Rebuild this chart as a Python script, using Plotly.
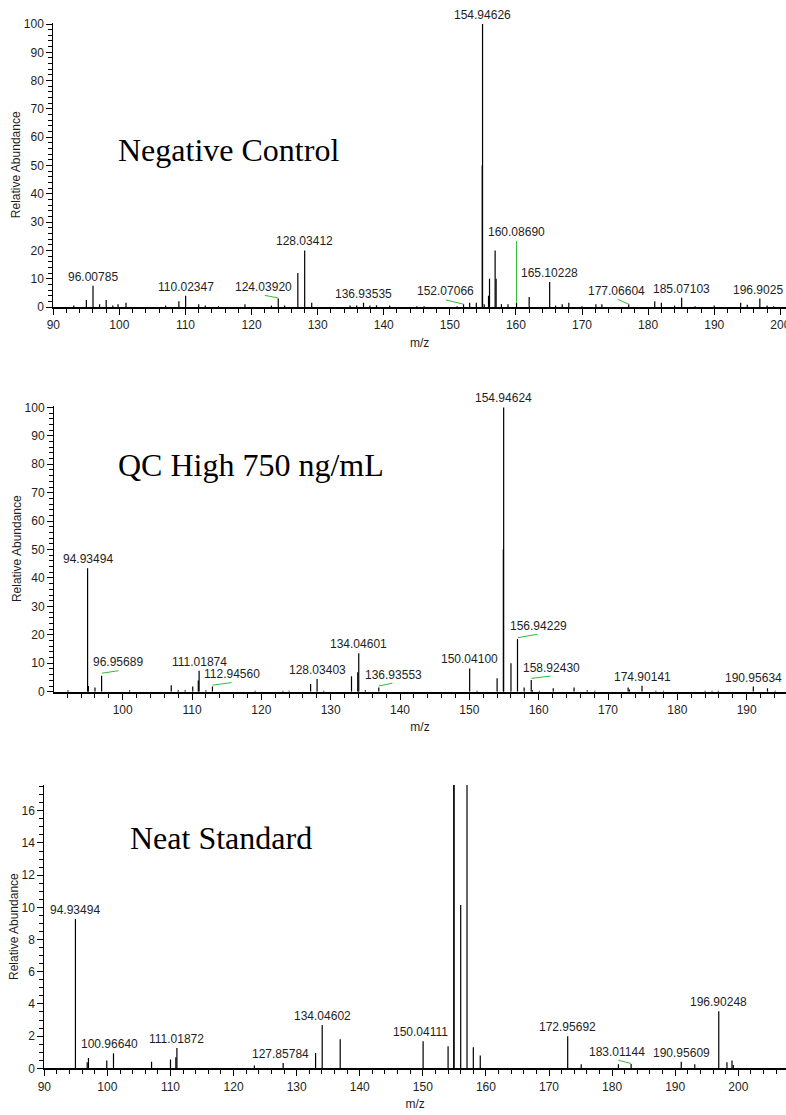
import plotly.graph_objects as go

W, H = 786, 1115

# ---------------- Data ----------------
# Panel 1: Negative Control
neg_mz = [93.1, 95.0, 96.00785, 97.0, 98.0, 99.0, 99.8, 101.0, 107.0, 109.0, 110.02347, 112.0,
          113.0, 115.0, 119.0, 123.0, 124.03920, 125.0, 127.0, 128.03412, 129.1, 134.9, 135.9,
          136.93535, 137.9, 138.9, 140.9, 145.0, 146.1, 151.1, 152.07066, 153.0, 154.0, 154.90,
          154.94626, 155.2, 155.85, 156.0, 156.85, 157.0, 157.8, 158.8, 160.08690, 162.0,
          165.10228, 166.0, 167.0, 168.0, 170.0, 172.1, 173.0, 177.06604, 181.0, 182.0, 184.0,
          185.07103, 187.1, 190.0, 194.0, 195.0, 196.9025, 198.0, 199.0]
neg_int = [0.5, 2.5, 7.5, 1.0, 2.5, 0.5, 1.0, 1.5, 0.5, 2.0, 4.0, 1.0,
           0.5, 0.3, 1.0, 0.5, 3.0, 0.5, 12.0, 20.0, 1.5, 0.5, 0.5,
           1.5, 0.5, 0.6, 0.5, 0.3, 0.3, 0.3, 1.0, 1.5, 1.5, 50.0,
           100.0, 1.0, 4.0, 10.0, 20.0, 10.0, 1.0, 1.0, 1.5, 3.5,
           8.8, 0.5, 1.0, 1.5, 0.3, 1.0, 1.0, 1.0, 2.0, 1.5, 0.5,
           3.3, 0.3, 0.5, 1.5, 0.8, 3.0, 0.5, 0.3]
neg_labels = ["96.00785", "110.02347", "124.03920", "128.03412", "136.93535", "152.07066",
              "154.94626", "160.08690", "165.10228", "177.06604", "185.07103", "196.9025"]

# Panel 2: QC High 750 ng/mL
qc_mz = [92.1, 94.93494, 95.05, 96.0, 96.95689, 101.0, 107.0, 108.0, 109.0, 110.1, 110.9,
         111.01874, 112.0, 112.94560, 119.1, 123.1, 124.0, 127.1, 128.03403, 129.0, 133.0,
         133.9, 134.04601, 135.0, 136.93553, 150.04100, 151.1, 154.0, 154.90, 154.94624, 156.0,
         156.94229, 157.9, 158.92430, 159.1, 160.1, 162.1, 165.1, 167.0, 168.1, 172.9, 173.1,
         174.90141, 176.9, 178.0, 184.0, 185.0, 185.9, 190.95634, 193.0, 194.1]
qc_int = [0.5, 43.4, 2.0, 1.5, 5.6, 0.5, 2.3, 0.5, 0.5, 1.8, 3.9,
          7.4, 0.5, 1.8, 0.3, 0.3, 0.3, 2.7, 4.5, 0.3, 5.4,
          6.8, 13.5, 0.5, 1.5, 8.2, 0.3, 4.7, 50.0, 100.0, 10.0,
          18.5, 1.5, 4.1, 0.5, 0.3, 1.2, 1.5, 0.5, 0.3, 1.5, 0.8,
          2.1, 0.3, 0.3, 0.3, 0.3, 0.3, 1.8, 1.2, 0.3]
qc_labels = ["94.93494", "96.95689", "111.01874", "112.94560", "128.03403", "134.04601",
             "136.93553", "150.04100", "154.94624", "156.94229", "158.92430", "174.90141",
             "190.95634"]

# Panel 3: Neat Standard
neat_mz = [94.93494, 96.8, 97.0, 99.9, 100.96640, 107.0, 110.0, 110.85, 111.01872, 123.3,
           127.85784, 133.0, 134.04602, 136.9, 150.04111, 154.0, 154.90, 154.94626, 156.0,
           157.0, 158.0, 159.1, 172.95692, 175.1, 181.0, 183.01144, 190.95609, 193.1,
           196.90248, 198.2, 199.0, 199.2]
neat_int = [9.28, 0.37, 0.64, 0.48, 0.93, 0.41, 0.54, 0.68, 1.26, 0.17,
            0.33, 0.95, 2.69, 1.8, 1.68, 1.37, 50.0, 100.0, 10.14,
            19.0, 1.3, 0.79, 1.99, 0.25, 0.25, 0.27, 0.41, 0.25,
            3.54, 0.37, 0.48, 0.2]
neat_labels = ["94.93494", "100.96640", "111.01872", "127.85784", "134.04602", "150.04111",
               "172.95692", "183.01144", "190.95609", "196.90248"]

titles = ["Negative Control", "QC High 750 ng/mL", "Neat Standard"]

# ---------------- Layout helpers ----------------
# labels drawn away from their peak: (label_x, label_y, leader_x0, leader_y0, leader_x1, leader_y1)
offsets = [
    {"124.03920": (121.8, 3.9, 122.0, 4.1, 124.04, 3.2),
     "152.07066": (149.4, 2.3, 149.4, 2.5, 152.07, 1.0),
     "160.08690": (160.09, 23.3, 160.09, 23.3, 160.09, 1.5),
     "177.06604": (175.2, 2.5, 175.4, 2.7, 177.07, 1.0),
     "196.9025": (196.55, 3.0, None, None, None, None)},
    {"96.95689": (99.3, 7.2, 97.0, 6.5, 99.4, 7.4),
     "112.94560": (115.8, 3.0, 112.95, 2.3, 115.7, 3.2),
     "136.93553": (139.0, 2.8, 136.94, 2.0, 138.9, 3.0),
     "156.94229": (159.9, 20.0, 157.0, 19.0, 159.8, 20.2),
     "158.92430": (161.9, 5.3, 158.93, 4.7, 161.7, 5.5)},
    {"100.96640": (100.4, 0.93, None, None, None, None),
     "127.85784": (127.4, 0.33, None, None, None, None),
     "150.04111": (149.6, 1.68, None, None, None, None),
     "183.01144": (180.8, 0.45, 181.0, 0.5, 183.0, 0.3)},
]

panels = [
    dict(mz=neg_mz, it=neg_int, labels=neg_labels,
         xdom=[53.3 / W, 1.0], ytop=22.6, ybot=307.0,
         xrange=[90, 200.86], yrange=[0, 100.5], ydtick=10, yminor=2,
         title_xy=(228, 150), ystand=0),
    dict(mz=qc_mz, it=qc_int, labels=qc_labels,
         xdom=[54.0 / W, 1.0], ytop=405.7, ybot=691.7,
         xrange=[90.09, 195.67], yrange=[0, 100.6], ydtick=10, yminor=2,
         title_xy=(251, 465), ystand=0),
    dict(mz=neat_mz, it=neat_int, labels=neat_labels,
         xdom=[44.3 / W, 1.0], ytop=785.0, ybot=1068.3,
         xrange=[90, 207.56], yrange=[0, 17.6], ydtick=2, yminor=0.5,
         title_xy=(221.5, 838), ystand=0),
]

SANS = "Liberation Sans, Arial, sans-serif"
SERIF = "Liberation Serif, Times New Roman, serif"
TXT = "#1e1e1e"

fig = go.Figure()
annotations = []
layout_axes = {}

for i, p in enumerate(panels):
    n = "" if i == 0 else str(i + 1)
    xa, ya = "x" + n, "y" + n
    xs, ys = [], []
    for m, h in zip(p["mz"], p["it"]):
        xs += [m, m, None]
        ys += [0, h, None]
    fig.add_trace(go.Scatter(x=xs, y=ys, mode="lines", xaxis=xa, yaxis=ya,
                             line=dict(color="#000000", width=1.2),
                             hoverinfo="skip", showlegend=False))
    # leader lines
    lx, ly = [], []
    for lab, o in offsets[i].items():
        if o[2] is not None:
            lx += [o[2], o[4], None]
            ly += [o[3], o[5], None]
    if lx:
        fig.add_trace(go.Scatter(x=lx, y=ly, mode="lines", xaxis=xa, yaxis=ya,
                                 line=dict(color="#33bb33", width=1),
                                 hoverinfo="skip", showlegend=False))
    # peak labels
    for lab in p["labels"]:
        if lab in offsets[i]:
            x, y = offsets[i][lab][0], offsets[i][lab][1]
        else:
            val = float(lab)
            k = min(range(len(p["mz"])), key=lambda j: abs(p["mz"][j] - val))
            x, y = p["mz"][k], p["it"][k]
        annotations.append(dict(x=x, y=y, xref=xa, yref=ya, text=lab, showarrow=False,
                                xanchor="center", yanchor="bottom", yshift=0,
                                font=dict(family=SANS, size=12, color=TXT)))
    # panel title
    tx, ty = p["title_xy"]
    annotations.append(dict(x=tx / W, y=1 - ty / H, xref="paper", yref="paper",
                            text=titles[i], showarrow=False, xanchor="center", yanchor="middle",
                            font=dict(family=SERIF, size=32, color="#000000")))
    ydom = [1 - p["ybot"] / H, 1 - p["ytop"] / H]
    layout_axes["xaxis" + n] = dict(
        domain=p["xdom"], range=p["xrange"], anchor=ya, showgrid=False, zeroline=False,
        showline=True, linecolor="#000000", linewidth=2,
        ticks="outside", ticklen=6, tickwidth=1, tickcolor="#000000", dtick=10, tick0=0,
        minor=dict(ticks="outside", ticklen=4, tickwidth=1, tickcolor="#000000", dtick=2, tick0=0),
        tickfont=dict(family=SANS, size=12, color=TXT), ticklabeloverflow="allow",
        title=dict(text="m/z", font=dict(family=SANS, size=12, color=TXT), standoff=7),
        automargin=False, fixedrange=True)
    layout_axes["yaxis" + n] = dict(
        domain=ydom, range=p["yrange"], anchor=xa, showgrid=False, zeroline=False,
        showline=True, linecolor="#000000", linewidth=1,
        ticks="outside", ticklen=6, tickwidth=1, tickcolor="#000000", dtick=p["ydtick"], tick0=0,
        minor=dict(ticks="outside", ticklen=4, tickwidth=1, tickcolor="#000000", dtick=p["yminor"], tick0=0),
        tickfont=dict(family=SANS, size=12, color=TXT),
        title=dict(text="Relative Abundance", font=dict(family=SANS, size=12, color=TXT),
                   standoff=p["ystand"]),
        automargin=False, fixedrange=True)

fig.update_layout(width=W, height=H, margin=dict(l=0, r=0, t=0, b=0),
                  paper_bgcolor="#ffffff", plot_bgcolor="#ffffff",
                  annotations=annotations, showlegend=False, **layout_axes)

fig.write_html("out.html", config={"displayModeBar": False})
